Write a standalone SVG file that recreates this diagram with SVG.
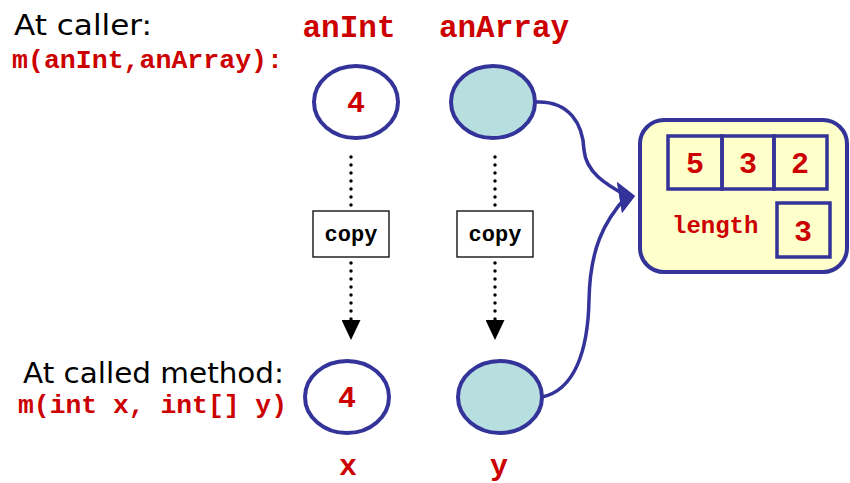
<svg xmlns="http://www.w3.org/2000/svg" width="850" height="483" viewBox="0 0 850 483">
<defs>
<style>
.lbl{font-family:"DejaVu Sans","Liberation Sans",sans-serif;font-size:28px;fill:#000}
.code{font-family:"Liberation Mono","DejaVu Sans Mono",monospace;font-weight:bold;fill:#cc0000}
.var{stroke:#333399;stroke-width:4}
.cell{fill:none;stroke:#333399;stroke-width:3.5}
.num{font-family:"Liberation Mono","DejaVu Sans Mono",monospace;font-weight:bold;fill:#cc0000;font-size:30px;text-anchor:middle}
.copybox{fill:#fff;stroke:#000;stroke-width:1.3}
.copytxt{font-family:"Liberation Mono","DejaVu Sans Mono",monospace;font-weight:bold;font-size:22px;fill:#000;text-anchor:middle}
.dot{stroke:#000;stroke-width:3.5;stroke-dasharray:0 8;stroke-linecap:round;fill:none}
.ref{fill:none;stroke:#333399;stroke-width:3.5}
</style>
<marker id="blk" viewBox="0 0 20 19" refX="2" refY="9.5" markerWidth="20" markerHeight="19" markerUnits="userSpaceOnUse" orient="auto">
<path d="M0,0 L20,9.5 L0,19 z" fill="#000"/>
</marker>
<marker id="blu" viewBox="0 0 18 31" refX="10" refY="14" markerWidth="18" markerHeight="31" markerUnits="userSpaceOnUse" orient="0">
<path d="M0,0 L18,14 L5,31 z" fill="#333399"/>
</marker>
</defs>

<g id="labels">
<text class="lbl" x="14" y="35" textLength="138" lengthAdjust="spacingAndGlyphs">At caller:</text>
<text class="code" x="12" y="68" font-size="26" textLength="271" lengthAdjust="spacingAndGlyphs">m(anInt,anArray):</text>
<text class="code" x="349" y="37" font-size="31" text-anchor="middle">anInt</text>
<text class="code" x="504" y="37" font-size="31" text-anchor="middle">anArray</text>
<text class="lbl" x="23" y="383" textLength="261" lengthAdjust="spacingAndGlyphs">At called method:</text>
<text class="code" x="18" y="413" font-size="26" textLength="269" lengthAdjust="spacingAndGlyphs">m(int x, int[] y)</text>
<text class="code" x="348" y="475" font-size="30" text-anchor="middle">x</text>
<text class="code" x="499" y="475" font-size="30" text-anchor="middle">y</text>
</g>

<g id="anInt">
<ellipse class="var" cx="356" cy="102" rx="42" ry="36" fill="#fff"/>
<text class="num" x="356" y="112">4</text>
</g>
<g id="anArray">
<ellipse class="var" cx="493" cy="102" rx="42" ry="36" fill="#b8dfe0"/>
</g>
<g id="x">
<ellipse class="var" cx="347" cy="397" rx="42" ry="36" fill="#fff"/>
<text class="num" x="347" y="407">4</text>
</g>
<g id="y">
<ellipse class="var" cx="500" cy="397" rx="42" ry="36" fill="#b8dfe0"/>
</g>

<g id="copy1">
<rect class="copybox" x="313" y="211" width="76" height="46"/>
<text class="copytxt" x="351" y="241">copy</text>
</g>
<g id="copy2">
<rect class="copybox" x="457" y="211" width="76" height="46"/>
<text class="copytxt" x="495" y="241">copy</text>
</g>

<g id="array">
<rect x="640" y="120" width="207" height="152" rx="24" fill="#ffffcc" stroke="#333399" stroke-width="4"/>
<rect class="cell" x="668" y="136" width="54" height="53"/>
<rect class="cell" x="722" y="136" width="52" height="53"/>
<rect class="cell" x="774" y="136" width="53" height="53"/>
<text class="num" x="695" y="173">5</text>
<text class="num" x="748" y="173">3</text>
<text class="num" x="800" y="173">2</text>
<text class="code" x="672" y="233" font-size="24">length</text>
<rect class="cell" x="777" y="203" width="53" height="54"/>
<text class="num" x="803" y="241">3</text>
</g>

<g id="connectors">
<line class="dot" x1="351" y1="157" x2="351" y2="207"/>
<line class="dot" x1="351" y1="263" x2="351" y2="322" marker-end="url(#blk)"/>
<line class="dot" x1="495" y1="157" x2="495" y2="207"/>
<line class="dot" x1="495" y1="263" x2="495" y2="322" marker-end="url(#blk)"/>
<path class="ref" d="M535,102 C570,100 583,125 584,150 C586,172 605,184 627,196" marker-end="url(#blu)"/>
<path class="ref" d="M542,397 C575,390 588,350 589,300 C590,250 603,222 627,196" marker-end="url(#blu)"/>
</g>
</svg>
